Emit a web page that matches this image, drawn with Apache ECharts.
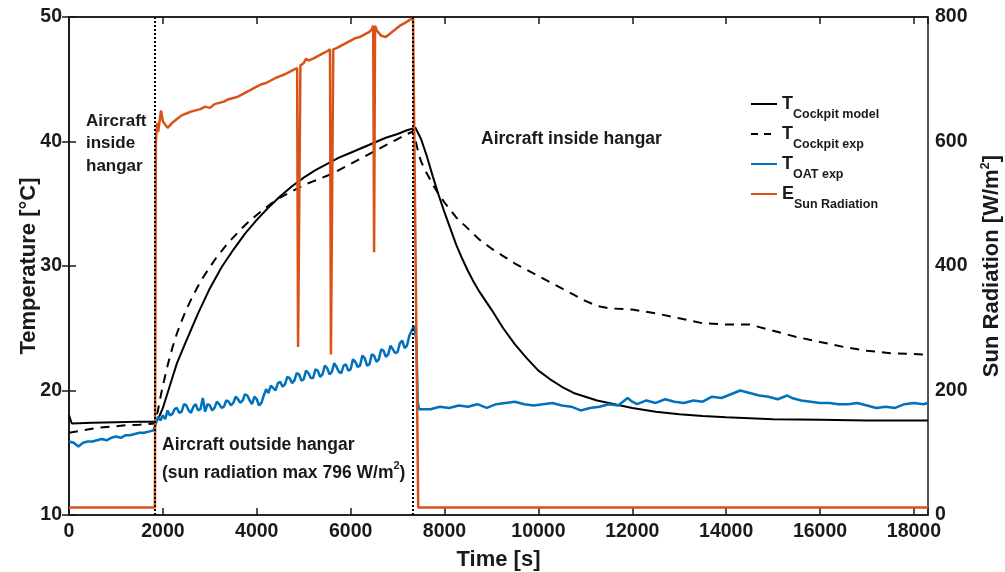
<!DOCTYPE html>
<html>
<head>
<meta charset="utf-8">
<script src="https://cdn.jsdelivr.net/npm/echarts@6/dist/echarts.min.js"></script>
<style>
  html, body { margin: 0; padding: 0; background: #fff; }
  #chart { width: 1005px; height: 572px; }
</style>
</head>
<body>
<div id="chart"></div>
<script>
// time [s] / value pairs
var cockpitModel = [
  [0, 18.0], [60, 17.35], [500, 17.4], [1000, 17.45], [1500, 17.5], [1830, 17.5],
  [1900, 17.7], [2000, 18.6], [2100, 19.8], [2200, 21.0], [2300, 22.2], [2400, 23.1],
  [2500, 24.0], [2625, 25.1], [2750, 26.2], [2875, 27.2], [3000, 28.2], [3250, 29.9],
  [3500, 31.3], [3750, 32.6], [4000, 33.7], [4250, 34.7], [4500, 35.6], [4750, 36.4],
  [5000, 37.1], [5250, 37.7], [5500, 38.2], [5750, 38.7], [6000, 39.1], [6250, 39.5],
  [6500, 39.9], [6750, 40.3], [7000, 40.6], [7200, 40.9], [7380, 41.1],
  [7500, 40.2], [7625, 38.8], [7750, 37.2], [7875, 35.7], [8000, 34.3], [8125, 33.0],
  [8250, 31.7], [8375, 30.6], [8500, 29.6], [8625, 28.7], [8750, 27.9], [8875, 27.2],
  [9000, 26.5], [9250, 25.0], [9500, 23.7], [9750, 22.6], [10000, 21.6], [10250, 20.9],
  [10500, 20.3], [10750, 19.8], [11000, 19.5], [11250, 19.2], [11500, 19.0], [11750, 18.8],
  [12000, 18.6], [12500, 18.3], [13000, 18.1], [13500, 17.95], [14000, 17.85], [15000, 17.7],
  [16000, 17.65], [17000, 17.6], [18300, 17.6]
];
var cockpitExp = [
  [0, 16.6], [300, 16.8], [600, 17.0], [900, 17.1], [1200, 17.2], [1500, 17.25], [1830, 17.35],
  [1900, 18.5], [1950, 19.5], [2000, 20.4], [2100, 22.0], [2200, 23.4], [2300, 24.6],
  [2400, 25.6], [2500, 26.5], [2625, 27.5], [2750, 28.4], [2875, 29.2], [3000, 29.9],
  [3125, 30.6], [3250, 31.2], [3375, 31.8], [3500, 32.3], [3700, 33.1], [3900, 33.8],
  [4100, 34.4], [4300, 35.0], [4500, 35.5], [4800, 36.1], [5000, 36.5], [5200, 36.8],
  [5400, 37.1], [5600, 37.4], [5800, 37.8], [6000, 38.2], [6250, 38.7], [6500, 39.2],
  [6750, 39.7], [7000, 40.2], [7200, 40.6], [7330, 40.8],
  [7400, 39.8], [7450, 39.0], [7500, 38.4], [7600, 37.6], [7700, 36.9], [7850, 35.9],
  [8000, 35.1], [8250, 33.9], [8500, 33.0], [8750, 32.1], [9000, 31.4], [9250, 30.8],
  [9500, 30.2], [9750, 29.7], [10000, 29.2], [10250, 28.7], [10500, 28.2], [10750, 27.7],
  [11000, 27.2], [11250, 26.8], [11500, 26.6], [12000, 26.5], [12500, 26.2], [13000, 25.8],
  [13500, 25.4], [14000, 25.3], [14500, 25.3], [15000, 24.8], [15500, 24.3], [16000, 23.9],
  [16500, 23.5], [17000, 23.2], [17500, 23.0], [18200, 22.9]
];
var oatExp = [
  [0, 15.9], [100, 15.8], [200, 15.5], [300, 15.8], [400, 15.9], [500, 15.9], [600, 16.0],
  [700, 16.1], [800, 16.0], [900, 16.2], [1000, 16.3], [1100, 16.2], [1200, 16.4], [1300, 16.4],
  [1400, 16.5], [1500, 16.6], [1600, 16.6], [1700, 16.7], [1800, 16.8], [1830, 16.9],
  [1900, 17.9], [1950, 17.6], [2000, 18.0], [2050, 17.7], [2100, 18.4], [2150, 18.0], [2200, 18.1],
  [2250, 18.5], [2300, 18.6], [2350, 18.2], [2400, 18.3], [2450, 18.9], [2500, 18.8],
  [2550, 18.4], [2600, 18.2], [2650, 18.7], [2700, 18.9], [2750, 18.4], [2800, 18.5],
  [2850, 19.4], [2900, 18.3], [2950, 18.9], [3000, 18.8], [3050, 18.4], [3100, 18.6],
  [3150, 19.1], [3200, 18.9], [3250, 18.6], [3300, 18.7], [3350, 19.2], [3400, 19.1],
  [3450, 18.8], [3500, 19.0], [3550, 19.5], [3600, 19.3], [3650, 19.0], [3700, 19.2],
  [3750, 19.7], [3800, 19.6], [3850, 19.2], [3900, 18.9], [3950, 19.5], [4000, 19.3],
  [4050, 18.8], [4100, 19.0], [4150, 19.6], [4200, 20.1], [4250, 19.8], [4300, 20.4],
  [4350, 20.2], [4400, 20.0], [4450, 20.6], [4500, 20.7], [4550, 20.3], [4600, 20.5],
  [4650, 21.1], [4700, 21.0], [4750, 20.6], [4800, 20.8], [4850, 21.4], [4900, 21.3],
  [4950, 20.8], [5000, 20.9], [5050, 21.6], [5100, 21.4], [5150, 21.0], [5200, 21.0],
  [5250, 21.7], [5300, 21.6], [5350, 21.1], [5400, 21.3], [5450, 22.0], [5500, 21.8],
  [5550, 21.3], [5600, 21.5], [5650, 22.2], [5700, 21.9], [5750, 21.5], [5800, 21.4],
  [5850, 22.0], [5900, 22.1], [5950, 21.6], [6000, 21.7], [6050, 22.5], [6100, 22.3],
  [6150, 21.9], [6200, 22.0], [6250, 22.8], [6300, 22.6], [6350, 22.0], [6400, 22.1],
  [6450, 22.9], [6500, 22.8], [6550, 22.3], [6600, 22.5], [6650, 23.3], [6700, 23.2],
  [6750, 22.7], [6800, 22.9], [6850, 23.6], [6900, 23.3], [6950, 23.0], [7000, 23.1],
  [7050, 23.8], [7100, 24.0], [7150, 23.4], [7200, 23.6], [7250, 24.4], [7300, 24.8],
  [7350, 25.2], [7380, 24.6], [7400, 24.0], [7430, 19.0],
  [7460, 18.5], [7500, 18.6], [7700, 18.5], [7900, 18.7], [8100, 18.6], [8300, 18.8],
  [8500, 18.7], [8700, 18.9], [8900, 18.6], [9100, 18.9], [9300, 19.0], [9500, 19.1],
  [9700, 18.9], [9900, 18.8], [10100, 18.9], [10300, 19.0], [10500, 18.8], [10700, 18.7],
  [10900, 18.4], [11100, 18.6], [11300, 18.7], [11500, 18.9], [11700, 18.8], [11900, 19.4],
  [12000, 19.1], [12100, 18.9], [12300, 19.2], [12500, 19.0], [12700, 19.3], [12900, 19.1],
  [13100, 19.0], [13300, 19.2], [13500, 19.1], [13700, 19.5], [13900, 19.4], [14100, 19.7],
  [14300, 20.0], [14500, 19.8], [14700, 19.6], [14900, 19.5], [15100, 19.3], [15300, 19.6],
  [15400, 19.4], [15600, 19.2], [15800, 19.1], [16000, 19.0], [16200, 19.0], [16400, 18.9],
  [16600, 18.9], [16800, 19.0], [17000, 18.8], [17200, 18.6], [17400, 18.7], [17600, 18.6],
  [17800, 18.9], [18000, 19.0], [18200, 18.9], [18300, 19.0]
];
var sunRadiation = [
  [0, 12], [1830, 12], [1850, 600], [1880, 630], [1900, 615], [1930, 612], [1960, 650],
  [2000, 632], [2100, 622], [2200, 630], [2300, 636], [2400, 642], [2500, 645], [2600, 648],
  [2700, 650], [2800, 652], [2900, 656], [3000, 654], [3100, 660], [3200, 662], [3300, 664],
  [3400, 668], [3500, 670], [3600, 672], [3700, 676], [3800, 680], [3900, 684], [4000, 688],
  [4100, 692], [4200, 694], [4300, 698], [4400, 702], [4500, 705], [4600, 708], [4700, 712],
  [4800, 716], [4860, 718], [4880, 270], [4910, 268], [4930, 722], [4960, 724], [5000, 726],
  [5050, 733], [5100, 730], [5200, 733], [5300, 737], [5400, 741], [5500, 745], [5560, 748],
  [5580, 258], [5610, 255], [5630, 748], [5700, 750], [5800, 754], [5900, 758], [6000, 762],
  [6100, 766], [6200, 768], [6300, 772], [6400, 776], [6450, 780], [6480, 786], [6500, 422],
  [6520, 786], [6560, 778], [6650, 770], [6750, 768], [6850, 774], [6950, 780], [7050, 786],
  [7150, 790], [7250, 795], [7330, 798], [7370, 798], [7440, 12], [18300, 12]
];
var hangarMoves = [1830, 7330];

var legendNames = ['Cockpit model', 'Cockpit exp', 'OAT exp', 'Sun Radiation'];
var legendMain = { 'Cockpit model': 'T', 'Cockpit exp': 'T', 'OAT exp': 'T', 'Sun Radiation': 'E' };

var ink = '#1a1a1a';
var font = '"Liberation Sans", Arial, sans-serif';

var myChart = echarts.init(document.getElementById('chart'));

var option = {
    animation: false,
    grid: {
        left: 69, right: 77, top: 17, bottom: 57, outerBoundsMode: 'none',
        show: true, borderColor: ink, borderWidth: 1.5
    },
    legend: {
        orient: 'vertical',
        left: 745,
        top: 90,
        itemWidth: 26,
        itemHeight: 10,
        itemGap: 4,
        itemStyle: { opacity: 0 },
        data: legendNames.map(function (n) {
            return n === 'Cockpit exp' ? { name: n, lineStyle: { type: [7, 6] } } : { name: n };
        }),
        formatter: function (name) {
            return '{m|' + legendMain[name] + '}{s|' + name + '}';
        },
        textStyle: {
            rich: {
                m: { fontSize: 18, fontWeight: 'bold', fontFamily: font, color: ink, lineHeight: 18, verticalAlign: 'top' },
                s: { fontSize: 12.5, fontWeight: 'bold', fontFamily: font, color: ink, lineHeight: 13, padding: [13, 0, 0, 0], verticalAlign: 'top' }
            }
        }
    },
    xAxis: [{
        type: 'value', min: 0, max: 18300, interval: 2000, position: 'bottom',
        name: 'Time [s]', nameLocation: 'middle', nameGap: 34,
        nameTextStyle: { fontSize: 22, fontWeight: 'bold', fontFamily: font, color: ink },
        axisLine: { show: true, lineStyle: { color: ink, width: 1.5 } },
        axisTick: { inside: true, length: 7, lineStyle: { color: ink, width: 1.5 } },
        axisLabel: {
            fontSize: 19.5, fontWeight: 'bold', fontFamily: font, color: ink, margin: 7,
            formatter: function (v) { return v % 2000 === 0 ? v : ''; }
        },
        splitLine: { show: false }
    }, {
        type: 'value', min: 0, max: 18300, interval: 2000, position: 'top',
        axisLine: { show: true, lineStyle: { color: ink, width: 1.5 } },
        axisTick: { inside: true, length: 7, lineStyle: { color: ink, width: 1.5 } },
        axisLabel: { show: false },
        splitLine: { show: false }
    }],
    yAxis: [{
        type: 'value', min: 10, max: 50, interval: 10, position: 'left',
        name: 'Temperature [°C]', nameLocation: 'middle', nameGap: 29, nameRotate: 90,
        nameMoveOverlap: false,
        nameTextStyle: { fontSize: 22, fontWeight: 'bold', fontFamily: font, color: ink },
        axisLine: { show: true, lineStyle: { color: ink, width: 1.5 } },
        axisTick: { inside: true, length: 7, lineStyle: { color: ink, width: 1.5 } },
        axisLabel: { fontSize: 19.5, fontWeight: 'bold', fontFamily: font, color: ink, margin: 7 },
        splitLine: { show: false }
    }, {
        type: 'value', min: 0, max: 800, interval: 200, position: 'right',
        name: '{a|Sun Radiation [W/m}{b|2}{a|]}', nameLocation: 'middle', nameGap: 51, nameRotate: 90,
        nameTextStyle: {
            rich: {
                a: { fontSize: 22, fontWeight: 'bold', fontFamily: font, color: ink, lineHeight: 24, verticalAlign: 'bottom' },
                b: { fontSize: 13, fontWeight: 'bold', fontFamily: font, color: ink, lineHeight: 13, verticalAlign: 'top' }
            }
        },
        axisLine: { show: true, lineStyle: { color: ink, width: 1.5 } },
        axisTick: { inside: true, length: 7, lineStyle: { color: ink, width: 1.5 } },
        axisLabel: { fontSize: 19.5, fontWeight: 'bold', fontFamily: font, color: ink, margin: 7 },
        splitLine: { show: false }
    }],
    graphic: [
        { type: 'text', left: 86, top: 110, style: { text: 'Aircraft\ninside\nhangar', font: 'bold 17px ' + font, lineHeight: 22.5, fill: ink } },
        { type: 'text', left: 481, top: 130, style: { text: 'Aircraft inside hangar', font: 'bold 17.5px ' + font, fill: ink } },
        { type: 'text', left: 162, top: 436, style: { text: 'Aircraft outside hangar', font: 'bold 17.5px ' + font, fill: ink } },
        {
            type: 'text', left: 162, top: 460,
            style: {
                text: '{a|(sun radiation max 796 W/m}{b|2}{a|)}', fill: ink,
                rich: {
                    a: { font: 'bold 17.5px ' + font, fill: ink, lineHeight: 22, verticalAlign: 'bottom' },
                    b: { font: 'bold 11px ' + font, fill: ink, lineHeight: 11, verticalAlign: 'top' }
                }
            }
        }
    ],
    series: [{
        name: 'Cockpit model', type: 'line', symbol: 'none', data: cockpitModel,
        lineStyle: { color: '#000', width: 2 }, itemStyle: { color: '#000' },
        markLine: {
            silent: true, symbol: 'none', label: { show: false },
            lineStyle: { color: '#000', type: [2, 2], width: 2 },
            data: hangarMoves.map(function (t) { return { xAxis: t }; })
        }
    }, {
        name: 'Cockpit exp', type: 'line', symbol: 'none', data: cockpitExp,
        lineStyle: { color: '#000', width: 2, type: [9, 7] }, itemStyle: { color: '#000' }
    }, {
        name: 'OAT exp', type: 'line', symbol: 'none', data: oatExp,
        lineStyle: { color: '#0072BD', width: 2.5 }, itemStyle: { color: '#0072BD' }
    }, {
        name: 'Sun Radiation', type: 'line', symbol: 'none', data: sunRadiation, yAxisIndex: 1,
        lineStyle: { color: '#D95319', width: 2.5 }, itemStyle: { color: '#D95319' }
    }]
};

myChart.setOption(option);
</script>
</body>
</html>
